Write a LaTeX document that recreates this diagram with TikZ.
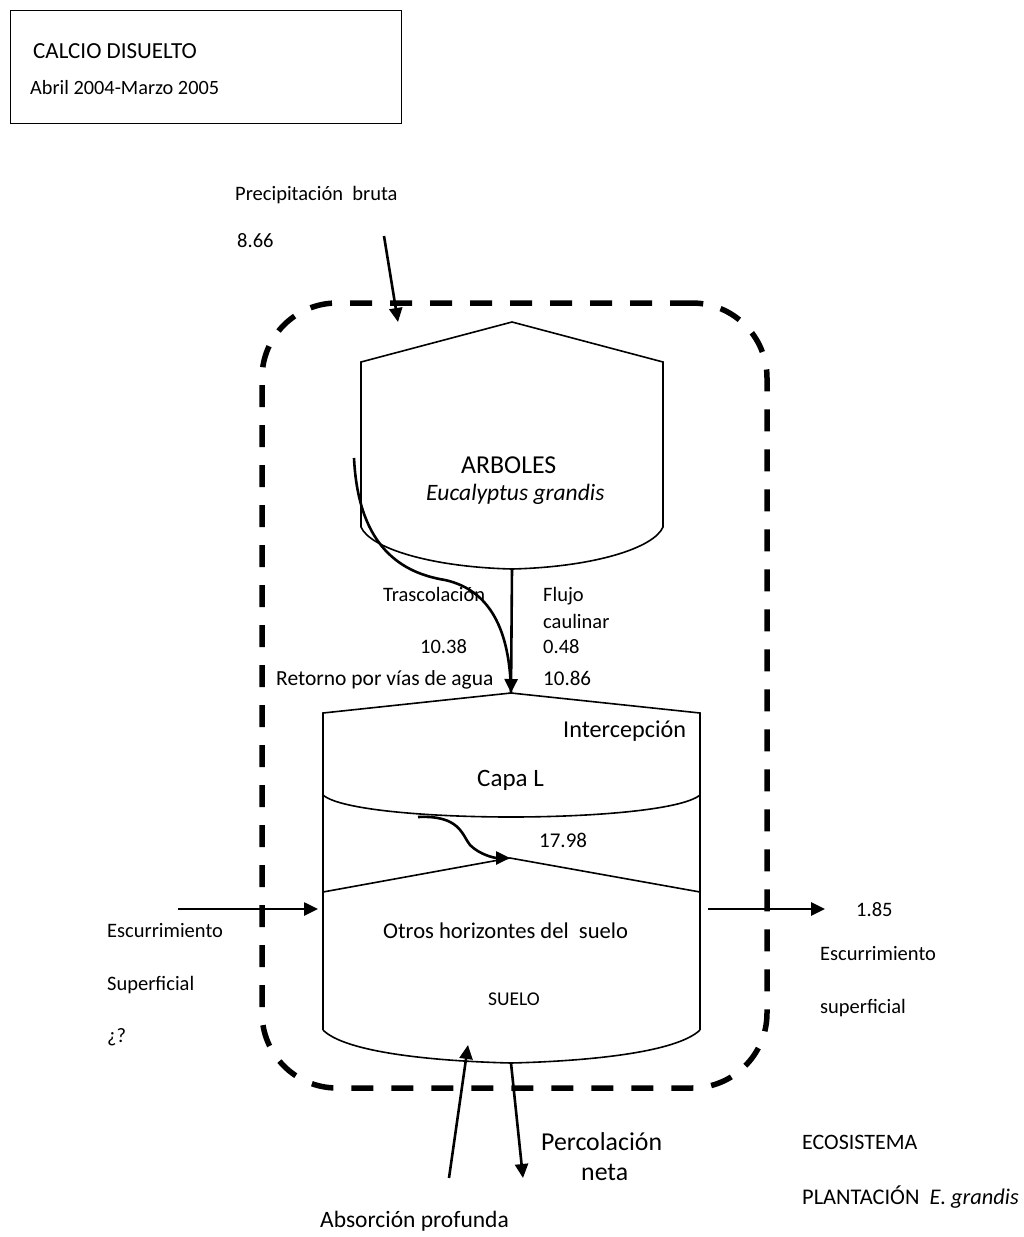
\documentclass[tikz,border=0pt]{standalone}
\usepackage{fontspec}
\setmainfont{Carlito}
\usetikzlibrary{arrows.meta}
\begin{document}
\begin{tikzpicture}[x=1pt,y=-1pt,
  shp/.style={line width=1.6pt, line join=miter},
  thin/.style={line width=1.1pt},
  flow/.style={line width=2.6pt, -{Triangle[length=14pt,width=13pt]}},
  lbl/.style={inner sep=0pt, anchor=base west, font=\fontsize{20.5}{24}\selectfont},
  big/.style={inner sep=0pt, anchor=base west, font=\fontsize{24}{28}\selectfont},
  ecobox/.style={draw, line width=5.5pt, dash pattern=on 22pt off 18pt, rounded corners=75pt, inner sep=0pt}
]
\useasboundingbox (0,0) rectangle (1024,1237);
\fill[white] (0,0) rectangle (1024,1237);

% title box
\node[draw, line width=1.4pt, minimum width=391pt, minimum height=113pt, anchor=north west, inner sep=0pt] (title) at (10,10) {};
\node[inner sep=0pt, anchor=base west, font=\fontsize{23}{27}\selectfont] (t1) at (33,58) {CALCIO DISUELTO};
\node[inner sep=0pt, anchor=base west, font=\fontsize{20.3}{24}\selectfont] (t2) at (30,94) {Abril 2004-Marzo 2005};

% ecosystem dashed box
\node[ecobox, minimum width=505pt, minimum height=785pt] (eco) at (514.5,695.5) {};

% trees shape
\coordinate (aTop) at (512,322);
\coordinate (aBot) at (512,569);
\draw[shp] (aTop) -- (361,362) -- (361,527) .. controls (370,548) and (430,567) .. (aBot)
  .. controls (594,567) and (654,548) .. (663,527) -- (663,362) -- cycle;
\node[big, font=\fontsize{25.8}{30}\selectfont] (arb) at (461,473) {ARBOLES};
\node[big, font=\fontsize{23.5}{28}\selectfont\itshape] (euc) at (426,500) {Eucalyptus grandis};

% litter / soil shape
\coordinate (lTop) at (511,693);
\coordinate (lBot) at (511,817);
\coordinate (sTop) at (510,858);
\coordinate (sBot) at (511,1063);
\draw[shp] (323,795) -- (323,713) -- (lTop) -- (700,713) -- (700,795);
\draw[shp] (323,795) .. controls (340,810) and (430,817) .. (lBot) .. controls (592,817) and (682,810) .. (700,795);
\draw[line width=2.6pt] (323,765) -- (323,795) (700,765) -- (700,795) (700,892) -- (700,930);
\draw[thin] (323,795) -- (323,1030) (700,795) -- (700,1030);
\draw[shp] (323,892) -- (sTop) -- (700,892);
\draw[shp] (323,1030) .. controls (345,1052) and (430,1061) .. (sBot) .. controls (592,1061) and (677,1052) .. (700,1030);

% internal flows
\coordinate (trStart) at (354,458);
\draw[line width=2.6pt] (trStart) .. controls (358,540) and (395,572) .. (445,580) .. controls (490,590) and (510,630) .. (lTop);
\draw[flow] (aBot) -- (lTop);
\coordinate (cStart) at (418,817);
\draw[flow] (cStart) .. controls (460,815) and (462,835) .. (470,845) .. controls (480,855) and (495,858) .. (sTop);

% precipitation
\coordinate (pStart) at (384,236);
\coordinate (pEnd) at (398,322);
\draw[flow] (pStart) -- (pEnd);

% lateral flows
\coordinate (inStart) at (178,909);
\coordinate (inEnd) at (318,909);
\draw[flow] (inStart) -- (inEnd);
\coordinate (outStart) at (708,909);
\coordinate (outEnd) at (825,909);
\draw[flow] (outStart) -- (outEnd);

% bottom flows
\coordinate (absStart) at (449,1178);
\coordinate (absEnd) at (468,1045);
\draw[flow] (absStart) -- (absEnd);
\coordinate (percEnd) at (523,1178);
\draw[flow] (sBot) -- (percEnd);

% labels
\node[lbl] (prec) at (235,200) {Precipitación\ \ bruta};
\node[lbl] (v866) at (237,247) {8.66};
\node[lbl] (tras) at (383,601) {Trascolación};
\node[lbl] (flujo) at (543,601) {Flujo};
\node[lbl] (caul) at (543,628) {caulinar};
\node[lbl] (v1038) at (420,653) {10.38};
\node[lbl] (v048) at (543,653) {0.48};
\node[lbl, font=\fontsize{21.5}{25}\selectfont] (ret) at (276,685) {Retorno por vías de agua};
\node[lbl, font=\fontsize{21}{25}\selectfont] (v1086) at (543,685) {10.86};
\node[lbl, font=\fontsize{24.2}{28}\selectfont] (inter) at (563,737) {Intercepción};
\node[big, font=\fontsize{25}{29}\selectfont] (capa) at (477,786) {Capa L};
\node[lbl, font=\fontsize{21}{25}\selectfont] (v1798) at (539,847) {17.98};
\node[lbl, font=\fontsize{22.6}{26}\selectfont] (otros) at (383,938) {Otros horizontes del\ \ suelo};
\node[lbl, font=\fontsize{19.5}{23}\selectfont] (suelo) at (488,1005) {SUELO};
\node[lbl] (v185) at (856,916) {1.85};
\node[lbl] (escR) at (820,960) {Escurrimiento};
\node[lbl] (supR) at (820,1013) {superficial};
\node[lbl] (escL) at (107,937) {Escurrimiento};
\node[lbl] (supL) at (107,990) {Superficial};
\node[lbl] (q) at (107,1042) {¿?};
\node[big, font=\fontsize{25.8}{30}\selectfont] (perc) at (541,1150) {Percolación};
\node[big, font=\fontsize{25.8}{30}\selectfont] (neta) at (581,1180) {neta};
\node[lbl, font=\fontsize{23.5}{27}\selectfont] (absor) at (320,1227) {Absorción profunda};
\node[lbl, font=\fontsize{22}{26}\selectfont] (ecos) at (802,1149) {ECOSISTEMA};
\node[lbl, font=\fontsize{22.4}{26}\selectfont] (plant) at (802,1204) {PLANTACIÓN\ \ \textit{E. grandis}};
\end{tikzpicture}
\end{document}
